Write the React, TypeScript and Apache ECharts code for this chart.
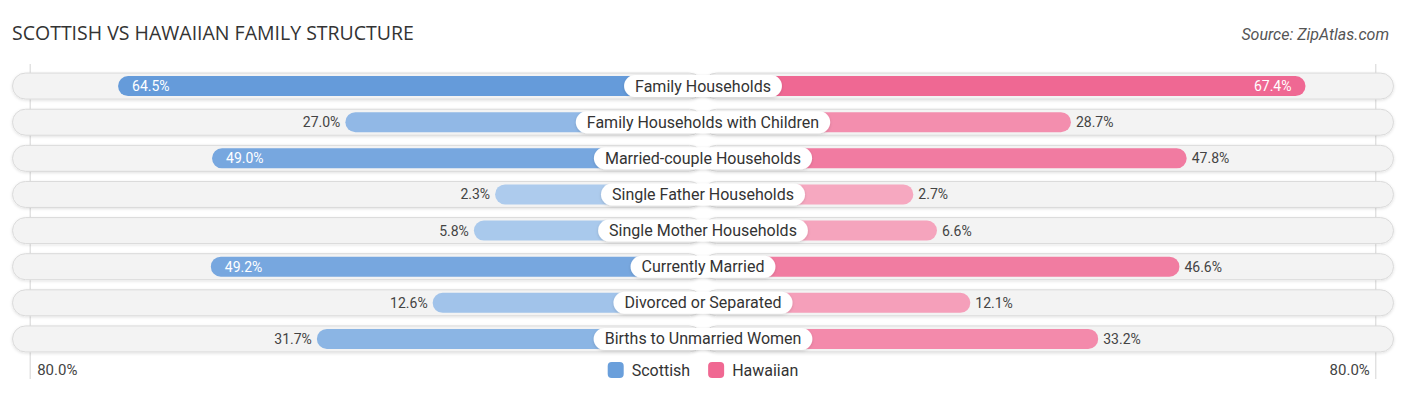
import React, { useEffect, useRef } from "react";
import * as echarts from "echarts";

const categories = [
  "Family Households",
  "Family Households with Children",
  "Married-couple Households",
  "Single Father Households",
  "Single Mother Households",
  "Currently Married",
  "Divorced or Separated",
  "Births to Unmarried Women",
];
const scottish = [64.5, 27.0, 49.0, 2.3, 5.8, 49.2, 12.6, 31.7];
const hawaiian = [67.4, 28.7, 47.8, 2.7, 6.6, 46.6, 12.1, 33.2];
const edgeTickLabels = ["80.0%", "80.0%"];
const seriesNames = ["Scottish", "Hawaiian"];

const W = 1406;
const H = 395;
const GRID_LEFT = 12;
const GRID_RIGHT = 12;
const OFFSET = 32; // visual offset hidden beneath the category label
const XMAX = 114;
const EDGE = 111;
const INSIDE_MIN = 48.5;

const BLUE_LIGHT = [176, 205, 238];
const BLUE_DARK = [95, 151, 216];
const PINK_LIGHT = [246, 171, 194];
const PINK_DARK = [239, 101, 145];

function mix(a: number[], b: number[], t: number) {
  const c = a.map((x, i) => Math.round(x + (b[i] - x) * t));
  return `rgb(${c[0]},${c[1]},${c[2]})`;
}
const tOf = (v: number) => Math.min(1, v / 70);

export default function App() {
  const ref = useRef<HTMLDivElement>(null);
  useEffect(() => {
    if (!ref.current) return;
    const chart = echarts.init(ref.current, undefined, { renderer: "svg" });
    const gridW = W - GRID_LEFT - GRID_RIGHT;
    const center = GRID_LEFT + gridW / 2;
    const scale = gridW / 2 / XMAX;
    const edgeLeftX = center - EDGE * scale;
    const edgeRightX = center + EDGE * scale;

    const font = "Roboto, 'Noto Sans', sans-serif";
    const pillStyle = {
      color: "#f3f3f3",
      borderColor: "#dadada",
      borderWidth: 1,
      borderRadius: 13.5,
      shadowColor: "rgba(0,0,0,0.12)",
      shadowBlur: 3,
      shadowOffsetY: 1,
    };

    const scottishData = scottish.map((v) => {
      const inside = v >= INSIDE_MIN;
      return {
        value: -(OFFSET + v),
        itemStyle: { color: mix(BLUE_LIGHT, BLUE_DARK, tOf(v)) },
        label: {
          show: true,
          position: inside ? "insideLeft" : "left",
          distance: inside ? 14 : 5,
          color: inside ? "#ffffff" : "#444444",
          fontSize: 14,
          fontFamily: font,
        },
      };
    });
    const hawaiianData = hawaiian.map((v) => {
      const inside = v >= INSIDE_MIN;
      return {
        value: OFFSET + v,
        itemStyle: { color: mix(PINK_LIGHT, PINK_DARK, tOf(v)) },
        label: {
          show: true,
          position: inside ? "insideRight" : "right",
          distance: inside ? 14 : 5,
          color: inside ? "#ffffff" : "#444444",
          fontSize: 14,
          fontFamily: font,
        },
      };
    });

    const option: any = {
      animation: false,
      textStyle: { fontFamily: font },
      title: [
        {
          text: "SCOTTISH VS HAWAIIAN FAMILY STRUCTURE",
          left: 7,
          top: 17,
          textStyle: { fontSize: 19.5, fontWeight: "normal", color: "#333333", fontFamily: "'Open Sans', Roboto, sans-serif" },
        },
        {
          text: "Source: ZipAtlas.com",
          right: 12,
          top: 21,
          textStyle: { fontSize: 16, fontWeight: "normal", fontStyle: "italic", color: "#555555", fontFamily: font },
        },
      ],
      legend: {
        data: seriesNames,
        bottom: 12,
        left: "center",
        icon: "roundRect",
        itemWidth: 16,
        itemHeight: 16,
        itemGap: 18,
        textStyle: { fontSize: 16, color: "#333333", fontFamily: font, padding: [0, 0, 0, 3] },
      },
      grid: { left: GRID_LEFT, right: GRID_RIGHT, top: 68, height: 289, containLabel: false },
      xAxis: {
        type: "value",
        min: -XMAX,
        max: XMAX,
        show: false,
      },
      yAxis: [
        { type: "category", data: categories, inverse: true, show: false },
        { type: "category", data: categories, inverse: true, show: false },
      ],
      graphic: [
        { type: "line", z: 0, shape: { x1: edgeLeftX, y1: 64, x2: edgeLeftX, y2: 379 }, style: { stroke: "#d4d4d4", lineWidth: 1 } },
        { type: "line", z: 0, shape: { x1: edgeRightX, y1: 64, x2: edgeRightX, y2: 379 }, style: { stroke: "#d4d4d4", lineWidth: 1 } },
        { type: "text", left: edgeLeftX + 7, top: 362, style: { text: edgeTickLabels[0], fontSize: 15, fill: "#444444", fontFamily: font } },
        { type: "text", right: W - edgeRightX + 6, top: 362, style: { text: edgeTickLabels[1], fontSize: 15, fill: "#444444", fontFamily: font } },
      ],
      series: [
        {
          type: "bar",
          yAxisIndex: 0,
          stack: "bg",
          barWidth: 27,
          silent: true,
          z: 1,
          itemStyle: pillStyle,
          data: categories.map(() => -XMAX),
        },
        {
          type: "bar",
          yAxisIndex: 0,
          stack: "bg",
          barWidth: 27,
          silent: true,
          z: 1,
          itemStyle: pillStyle,
          data: categories.map(() => XMAX),
        },
        {
          name: seriesNames[0],
          type: "bar",
          yAxisIndex: 1,
          stack: "val",
          barWidth: 20,
          z: 2,
          itemStyle: { color: "#6a9fdb", borderRadius: 10 },
          label: {
            show: true,
            formatter: (p: any) => scottish[p.dataIndex].toFixed(1) + "%",
          },
          data: scottishData,
        },
        {
          name: seriesNames[1],
          type: "bar",
          yAxisIndex: 1,
          stack: "val",
          barWidth: 20,
          z: 2,
          itemStyle: { color: "#f06892", borderRadius: 10 },
          label: {
            show: true,
            formatter: (p: any) => hawaiian[p.dataIndex].toFixed(1) + "%",
          },
          data: hawaiianData,
        },
        {
          type: "scatter",
          yAxisIndex: 1,
          symbolSize: 0,
          z: 5,
          silent: true,
          itemStyle: { opacity: 1 },
          data: categories.map((c) => [0, c]),
          label: {
            show: true,
            position: "inside",
            formatter: (p: any) => categories[p.dataIndex],
            backgroundColor: "#ffffff",
            borderRadius: 11,
            padding: [3, 11, 3, 11],
            color: "#333333",
            fontSize: 16,
            fontFamily: font,
            opacity: 1,
            shadowColor: "rgba(0,0,0,0.15)",
            shadowBlur: 3,
            shadowOffsetY: 1,
          },
        },
      ],
    };
    chart.setOption(option);
    return () => chart.dispose();
  }, []);
  return (
    <div
      ref={ref}
      style={{ position: "fixed", left: 0, top: 0, width: W, height: H, background: "#ffffff" }}
    />
  );
}
